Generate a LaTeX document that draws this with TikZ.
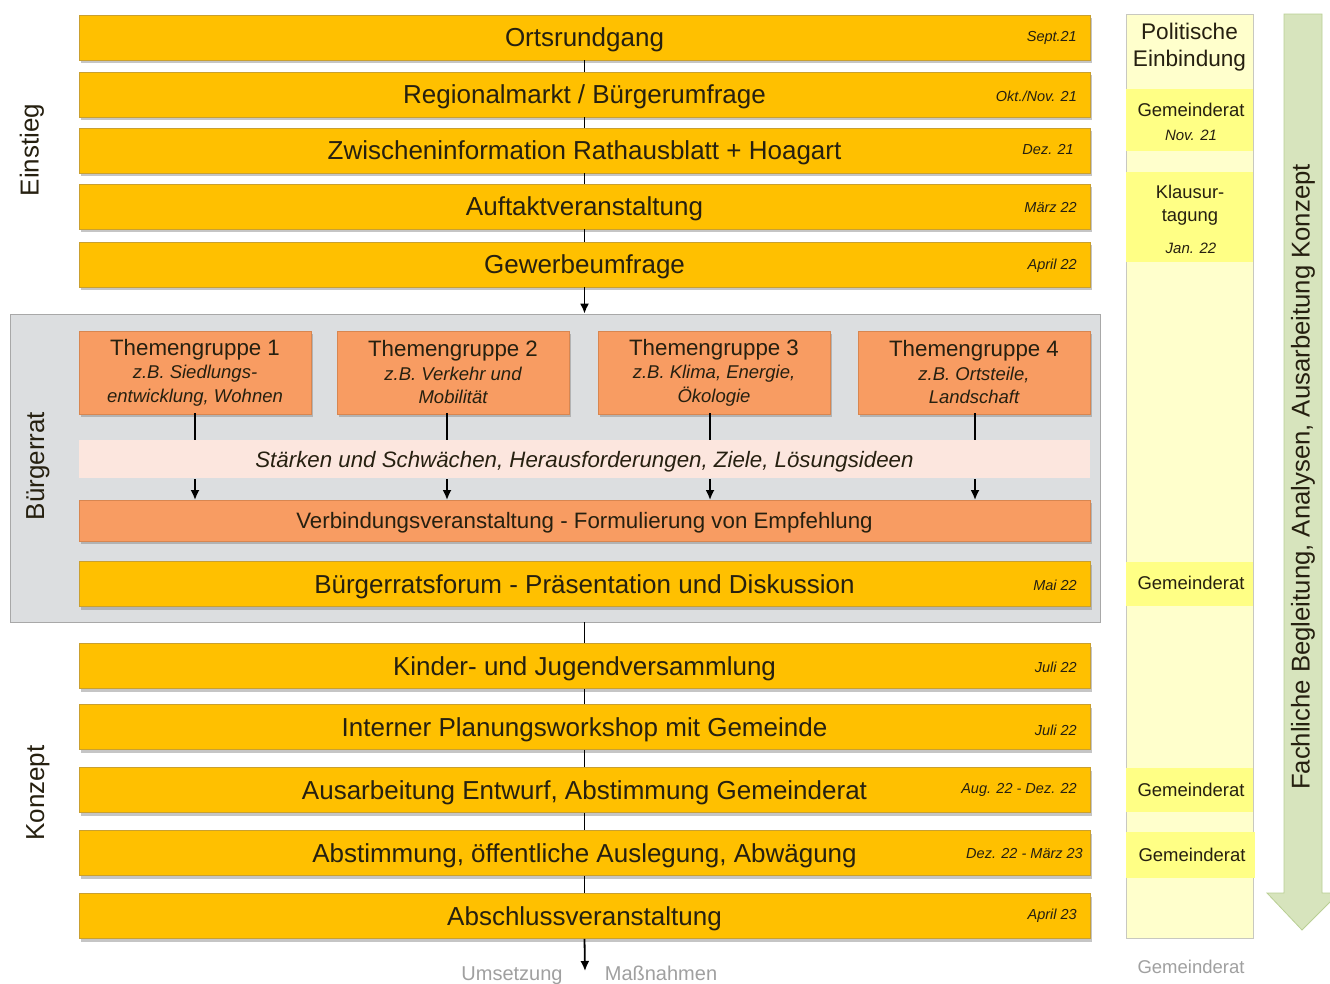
\documentclass[tikz,border=0pt]{standalone}
\usepackage{fontspec}
\setmainfont{Liberation Sans}
\usetikzlibrary{arrows.meta,shadows}
\definecolor{gold}{HTML}{FFC000}
\definecolor{golddraw}{HTML}{C9A030}
\definecolor{orng}{HTML}{F89C62}
\definecolor{orngdraw}{HTML}{D88650}
\definecolor{pinkband}{HTML}{FCE6DE}
\definecolor{grpfill}{HTML}{DCDEE0}
\definecolor{grpdraw}{HTML}{A8A8A8}
\definecolor{colfill}{HTML}{FFFFCC}
\definecolor{coldraw}{HTML}{C8C8C0}
\definecolor{colband}{HTML}{FFFF85}
\definecolor{arrfill}{HTML}{D7E4BD}
\definecolor{arrdraw}{HTML}{B9CF94}
\definecolor{txt}{HTML}{262010}
\definecolor{greytxt}{HTML}{A0A0A0}
\newcommand{\subfont}{\fontsize{18.5}{23.5}\selectfont\itshape}
\begin{document}
\begin{tikzpicture}[x=1pt,y=-1pt,
  shadowed/.style={drop shadow={opacity=0.45,shadow xshift=2pt,shadow yshift=-3pt}},
  bar/.style={draw=golddraw,fill=gold,line width=0.6pt,minimum width=1011pt,
    minimum height=45pt,inner sep=0pt,text height=18.6pt,text depth=0pt,
    font=\fontsize{26}{29}\selectfont,text=txt,shadowed},
  obar/.style={bar,draw=orngdraw,fill=orng,minimum height=41pt,text height=16pt,
    font=\fontsize{22.3}{25}\selectfont},
  date/.style={anchor=east,inner sep=0pt,font=\fontsize{14.5}{16}\selectfont\itshape,text=txt},
  theme/.style={draw=orngdraw,fill=orng,line width=0.6pt,minimum width=232pt,minimum height=83pt,
    inner sep=0pt,align=center,font=\fontsize{22.3}{23.5}\selectfont,text=txt,shadowed},
  phase/.style={rotate=90,font=\fontsize{26}{29}\selectfont,text=txt},
  conn/.style={line width=1.8pt,draw=black},
  arr/.style={conn,-{Latex[length=10pt,width=9pt]}},
  band/.style={fill=colband,draw=none,minimum width=127pt,inner sep=0pt},
  coltext/.style={font=\fontsize{18.5}{21}\selectfont,text=txt,inner sep=0pt},
  coldate/.style={font=\fontsize{15}{17}\selectfont\itshape,text=txt,inner sep=0pt},
  greylabel/.style={anchor=base,font=\fontsize{20}{22}\selectfont,text=greytxt,inner sep=0pt}]
\clip (0,0) rectangle (1330,983);
\fill[white] (0,0) rectangle (1330,983);

% --- Bürgerrat frame
\node[draw=grpdraw,fill=grpfill,line width=0.8pt,minimum width=1090pt,minimum height=308pt,inner sep=0pt]
  (grp) at (555,468) {};

% --- Einstieg
\node[bar] (b1) at (584.5,37.5)  {Ortsrundgang};
\node[bar] (b2) at (584.5,94.5)  {Regionalmarkt / Bürgerumfrage};
\node[bar] (b3) at (584.5,150.5) {Zwischeninformation Rathausblatt + Hoagart};
\node[bar] (b4) at (584.5,206.5) {Auftaktveranstaltung};
\node[bar] (b5) at (584.5,264.5) {Gewerbeumfrage};
\node[date] (d1) at (1077,38)  {Sept.21};
\node[date] (d2) at (1077,96)  {Okt./Nov. 21};
\node[date] (d3) at (1074,150) {Dez. 21};
\node[date] (d4) at (1077,208) {März 22};
\node[date] (d5) at (1077,266) {April 22};

\draw[conn] (b1.south) -- (b2.north);
\draw[conn] (b2.south) -- (b3.north);
\draw[conn] (b3.south) -- (b4.north);
\draw[conn] (b4.south) -- (b5.north);
\draw[arr] (b5.south) -- (b5.south |- grp.north);

% --- Bürgerrat
\node[theme] (t1) at (195,372.5) {Themengruppe 1\\\subfont z.B. Siedlungs-\\\subfont entwicklung, Wohnen};
\node[theme] (t2) at (453,372.5) {Themengruppe 2\\\subfont z.B. Verkehr und\\\subfont Mobilität};
\node[theme] (t3) at (714,372.5) {Themengruppe 3\\\subfont z.B. Klima, Energie,\\\subfont Ökologie};
\node[theme] (t4) at (974,372.5) {Themengruppe 4\\\subfont z.B. Ortsteile,\\\subfont Landschaft};

\node[fill=pinkband,minimum width=1011pt,minimum height=38pt,inner sep=0pt,
  text height=16pt,text depth=0pt,
  font=\fontsize{22.3}{25}\selectfont\itshape,text=txt] (sw) at (584.5,459)
  {Stärken und Schwächen, Herausforderungen, Ziele, Lösungsideen};
\node[obar] (vb) at (584.5,520.5) {Verbindungsveranstaltung - Formulierung von Empfehlung};
\node[bar] (bf) at (584.5,584) {Bürgerratsforum - Präsentation und Diskussion};
\node[date] (d6) at (1077,585) {Mai 22};

\foreach \x in {195,447,710,975}{
  \draw[conn] (\x,413) -- (\x,440);
  \draw[arr] (\x,479) -- (\x,500);
}

% --- Konzept
\node[bar] (k1) at (584.5,666) {Kinder- und Jugendversammlung};
\node[bar] (k2) at (584.5,727) {Interner Planungsworkshop mit Gemeinde};
\node[bar] (k3) at (584.5,790) {Ausarbeitung Entwurf, Abstimmung Gemeinderat};
\node[bar] (k4) at (584.5,853) {Abstimmung, öffentliche Auslegung, Abwägung};
\node[bar] (k5) at (584.5,916) {Abschlussveranstaltung};
\node[date] (d7)  at (1077,667) {Juli 22};
\node[date] (d8)  at (1077,730) {Juli 22};
\node[date] (d9)  at (1077,790) {Aug. 22 - Dez. 22};
\node[date] (d10) at (1083,853) {Dez. 22 - März 23};
\node[date] (d11) at (1077,916) {April 23};

\draw[conn] (k1.north |- grp.south) -- (k1.north);
\draw[conn] (k1.south) -- (k2.north);
\draw[conn] (k2.south) -- (k3.north);
\draw[conn] (k3.south) -- (k4.north);
\draw[conn] (k4.south) -- (k5.north);
\coordinate (out) at (585,971);
\draw[arr] (k5.south) -- (out);
\node[greylabel] (ums) at (512,980) {Umsetzung};
\node[greylabel] (mas) at (661,980) {Maßnahmen};

% --- phase labels
\node[phase] (pe) at (32,150) {Einstieg};
\node[phase] (pb) at (38,466) {Bürgerrat};
\node[phase] (pk) at (38,793) {Konzept};

% --- political involvement column
\node[fill=colfill,draw=coldraw,line width=0.6pt,minimum width=127pt,minimum height=924pt,inner sep=0pt]
  (col) at (1189.5,476) {};
\node[band,minimum height=62pt] (g1) at (1189.5,120) {};
\node[band,minimum height=90pt] (g2) at (1189.5,217) {};
\node[band,minimum height=44pt] (g3) at (1189.5,584) {};
\node[band,minimum height=44pt] (g4) at (1189.5,790) {};
\node[band,minimum height=46pt,minimum width=129pt] (g5) at (1190.5,855) {};
\node[align=center,font=\fontsize{22.6}{27}\selectfont,text=txt,inner sep=0pt] (pol) at (1189.5,47)
  {Politische\\Einbindung};
\node[coltext] at (1191,110) {Gemeinderat};
\node[coldate] at (1191,135) {Nov. 21};
\node[coltext,align=center,font=\fontsize{18.4}{23}\selectfont] at (1190,205) {Klausur-\\tagung};
\node[coldate] at (1191,248) {Jan. 22};
\node[coltext] at (1191,583) {Gemeinderat};
\node[coltext] at (1191,790) {Gemeinderat};
\node[coltext] at (1192,855) {Gemeinderat};
\node[greylabel,font=\fontsize{18.5}{20}\selectfont] (gr) at (1191,973) {Gemeinderat};

% --- professional support arrow
\draw[fill=arrfill,draw=arrdraw,line width=0.8pt]
  (1284,14) -- (1322,14) -- (1322,893) -- (1339,893) -- (1302,930) -- (1267,893) -- (1284,893) -- cycle;
\node[rotate=90,font=\fontsize{25.7}{28}\selectfont,text=txt] (fb) at (1303,477)
  {Fachliche Begleitung, Analysen, Ausarbeitung Konzept};
\end{tikzpicture}
\end{document}
